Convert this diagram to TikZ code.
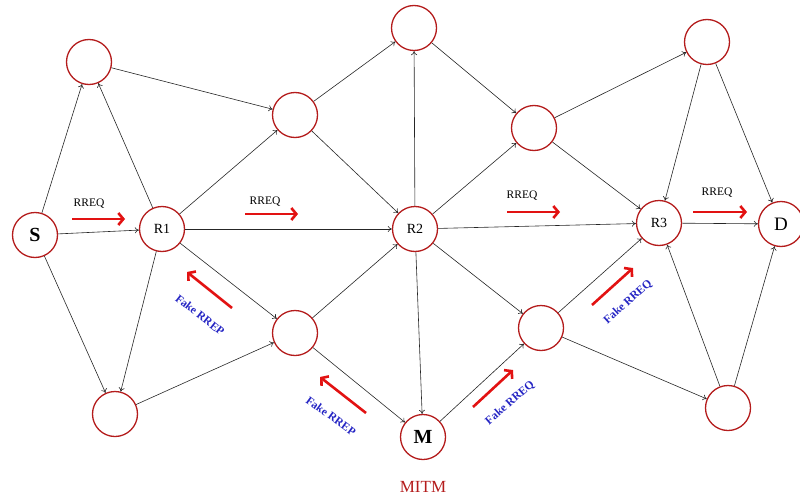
\documentclass[tikz,border=0pt]{standalone}
\usepackage{fontspec}
\setmainfont{Liberation Serif}
\usetikzlibrary{arrows.meta}
\definecolor{ringred}{RGB}{180,28,28}
\definecolor{msgred}{RGB}{226,18,18}
\definecolor{fakeblue}{RGB}{38,38,196}

\begin{document}
\begin{tikzpicture}[x=1pt,y=-1pt,
        host/.style={circle, draw=ringred, line width=1.3pt, fill=white, minimum size=45pt, inner sep=0pt, font=\fontsize{14}{14}\selectfont},
        endhost/.style={host, font=\fontsize{20}{20}\selectfont\bfseries},
        link/.style={draw=black!85, line width=0.6pt, -{To[length=4pt,width=6pt]}},
        msg/.style={draw=msgred, line width=2.6pt, -{Straight Barb[length=5pt,width=12pt]}},
        msgtxt/.style={font=\fontsize{11.5}{11.5}\selectfont, inner sep=0pt},
        faketxt/.style={font=\fontsize{11.5}{11.5}\selectfont\bfseries, text=fakeblue, inner sep=0pt}]
    \useasboundingbox (0,0) rectangle (800,503);

    % hosts
    \node[endhost] (s)  at (35,235)  {S};
    \node[host]    (r1) at (162,229) {R1};
    \node[host]    (a1) at (89,62)   {};
    \node[host]    (b1) at (115,414) {};
    \node[host]    (n1) at (295,115) {};
    \node[host]    (n2) at (295,333) {};
    \node[host]    (t)  at (414,28)  {};
    \node[host]    (r2) at (415,229) {R2};
    \node[endhost] (m)  at (423,437) {M};
    \node[host]    (u1) at (534,128) {};
    \node[host]    (u2) at (541,328) {};
    \node[host]    (r3) at (659,223) {R3};
    \node[host]    (t2) at (707,42)  {};
    \node[host]    (b2) at (728,408) {};
    \node[host, font=\fontsize{19}{19}\selectfont] (d) at (781,224) {D};

    % links
    \draw[link] (s) -- (a1);
    \draw[link] (s) -- (r1);
    \draw[link] (s) -- (b1);
    \draw[link] (r1) -- (a1);
    \draw[link] (r1) -- (b1);
    \draw[link] (r1) -- (n1);
    \draw[link] (r1) -- (r2);
    \draw[link] (r1) -- (n2);
    \draw[link] (a1) -- (n1);
    \draw[link] (b1) -- (n2);
    \draw[link] (n1) -- (t);
    \draw[link] (n1) -- (r2);
    \draw[link] (n2) -- (r2);
    \draw[link] (n2) -- (m);
    \draw[link] (t) -- (u1);
    \draw[link] (r2) -- (t);
    \draw[link] (r2) -- (u1);
    \draw[link] (r2) -- (r3);
    \draw[link] (r2) -- (u2);
    \draw[link] (r2) -- (m);
    \draw[link] (m) -- (u2);
    \draw[link] (u1) -- (t2);
    \draw[link] (u1) -- (r3);
    \draw[link] (u2) -- (r3);
    \draw[link] (u2) -- (b2);
    \draw[link] (t2) -- (r3);
    \draw[link] (t2) -- (d);
    \draw[link] (r3) -- (d);
    \draw[link] (b2) -- (r3);
    \draw[link] (b2) -- (d);

    % route requests
    \draw[msg] (72,219) -- (125,219);
    \node[msgtxt] (q1) at (89,204) {RREQ};
    \draw[msg] (245,214) -- (298,214);
    \node[msgtxt] (q2) at (265,202) {RREQ};
    \draw[msg] (507,212) -- (560,212);
    \node[msgtxt] (q3) at (522,196) {RREQ};
    \draw[msg] (693,212) -- (747,212);
    \node[msgtxt] (q4) at (717,193) {RREQ};

    % forged replies and requests
    \draw[msg] (232,308) -- (187,272);
    \node[faketxt, rotate=-38] (p1) at (200,315) {Fake RREP};
    \draw[msg] (366,413) -- (320,377);
    \node[faketxt, rotate=-36] (p2) at (331,416) {Fake RREP};
    \draw[msg] (473,407) -- (513,370);
    \node[faketxt, rotate=41] (f1) at (510,403) {Fake RREQ};
    \draw[msg] (592,305) -- (633,268);
    \node[faketxt, rotate=42] (f2) at (628,302) {Fake RREQ};

    \node[font=\fontsize{17}{17}\selectfont, text=ringred] (mitm) at (423,487) {MITM};
\end{tikzpicture}
\end{document}
